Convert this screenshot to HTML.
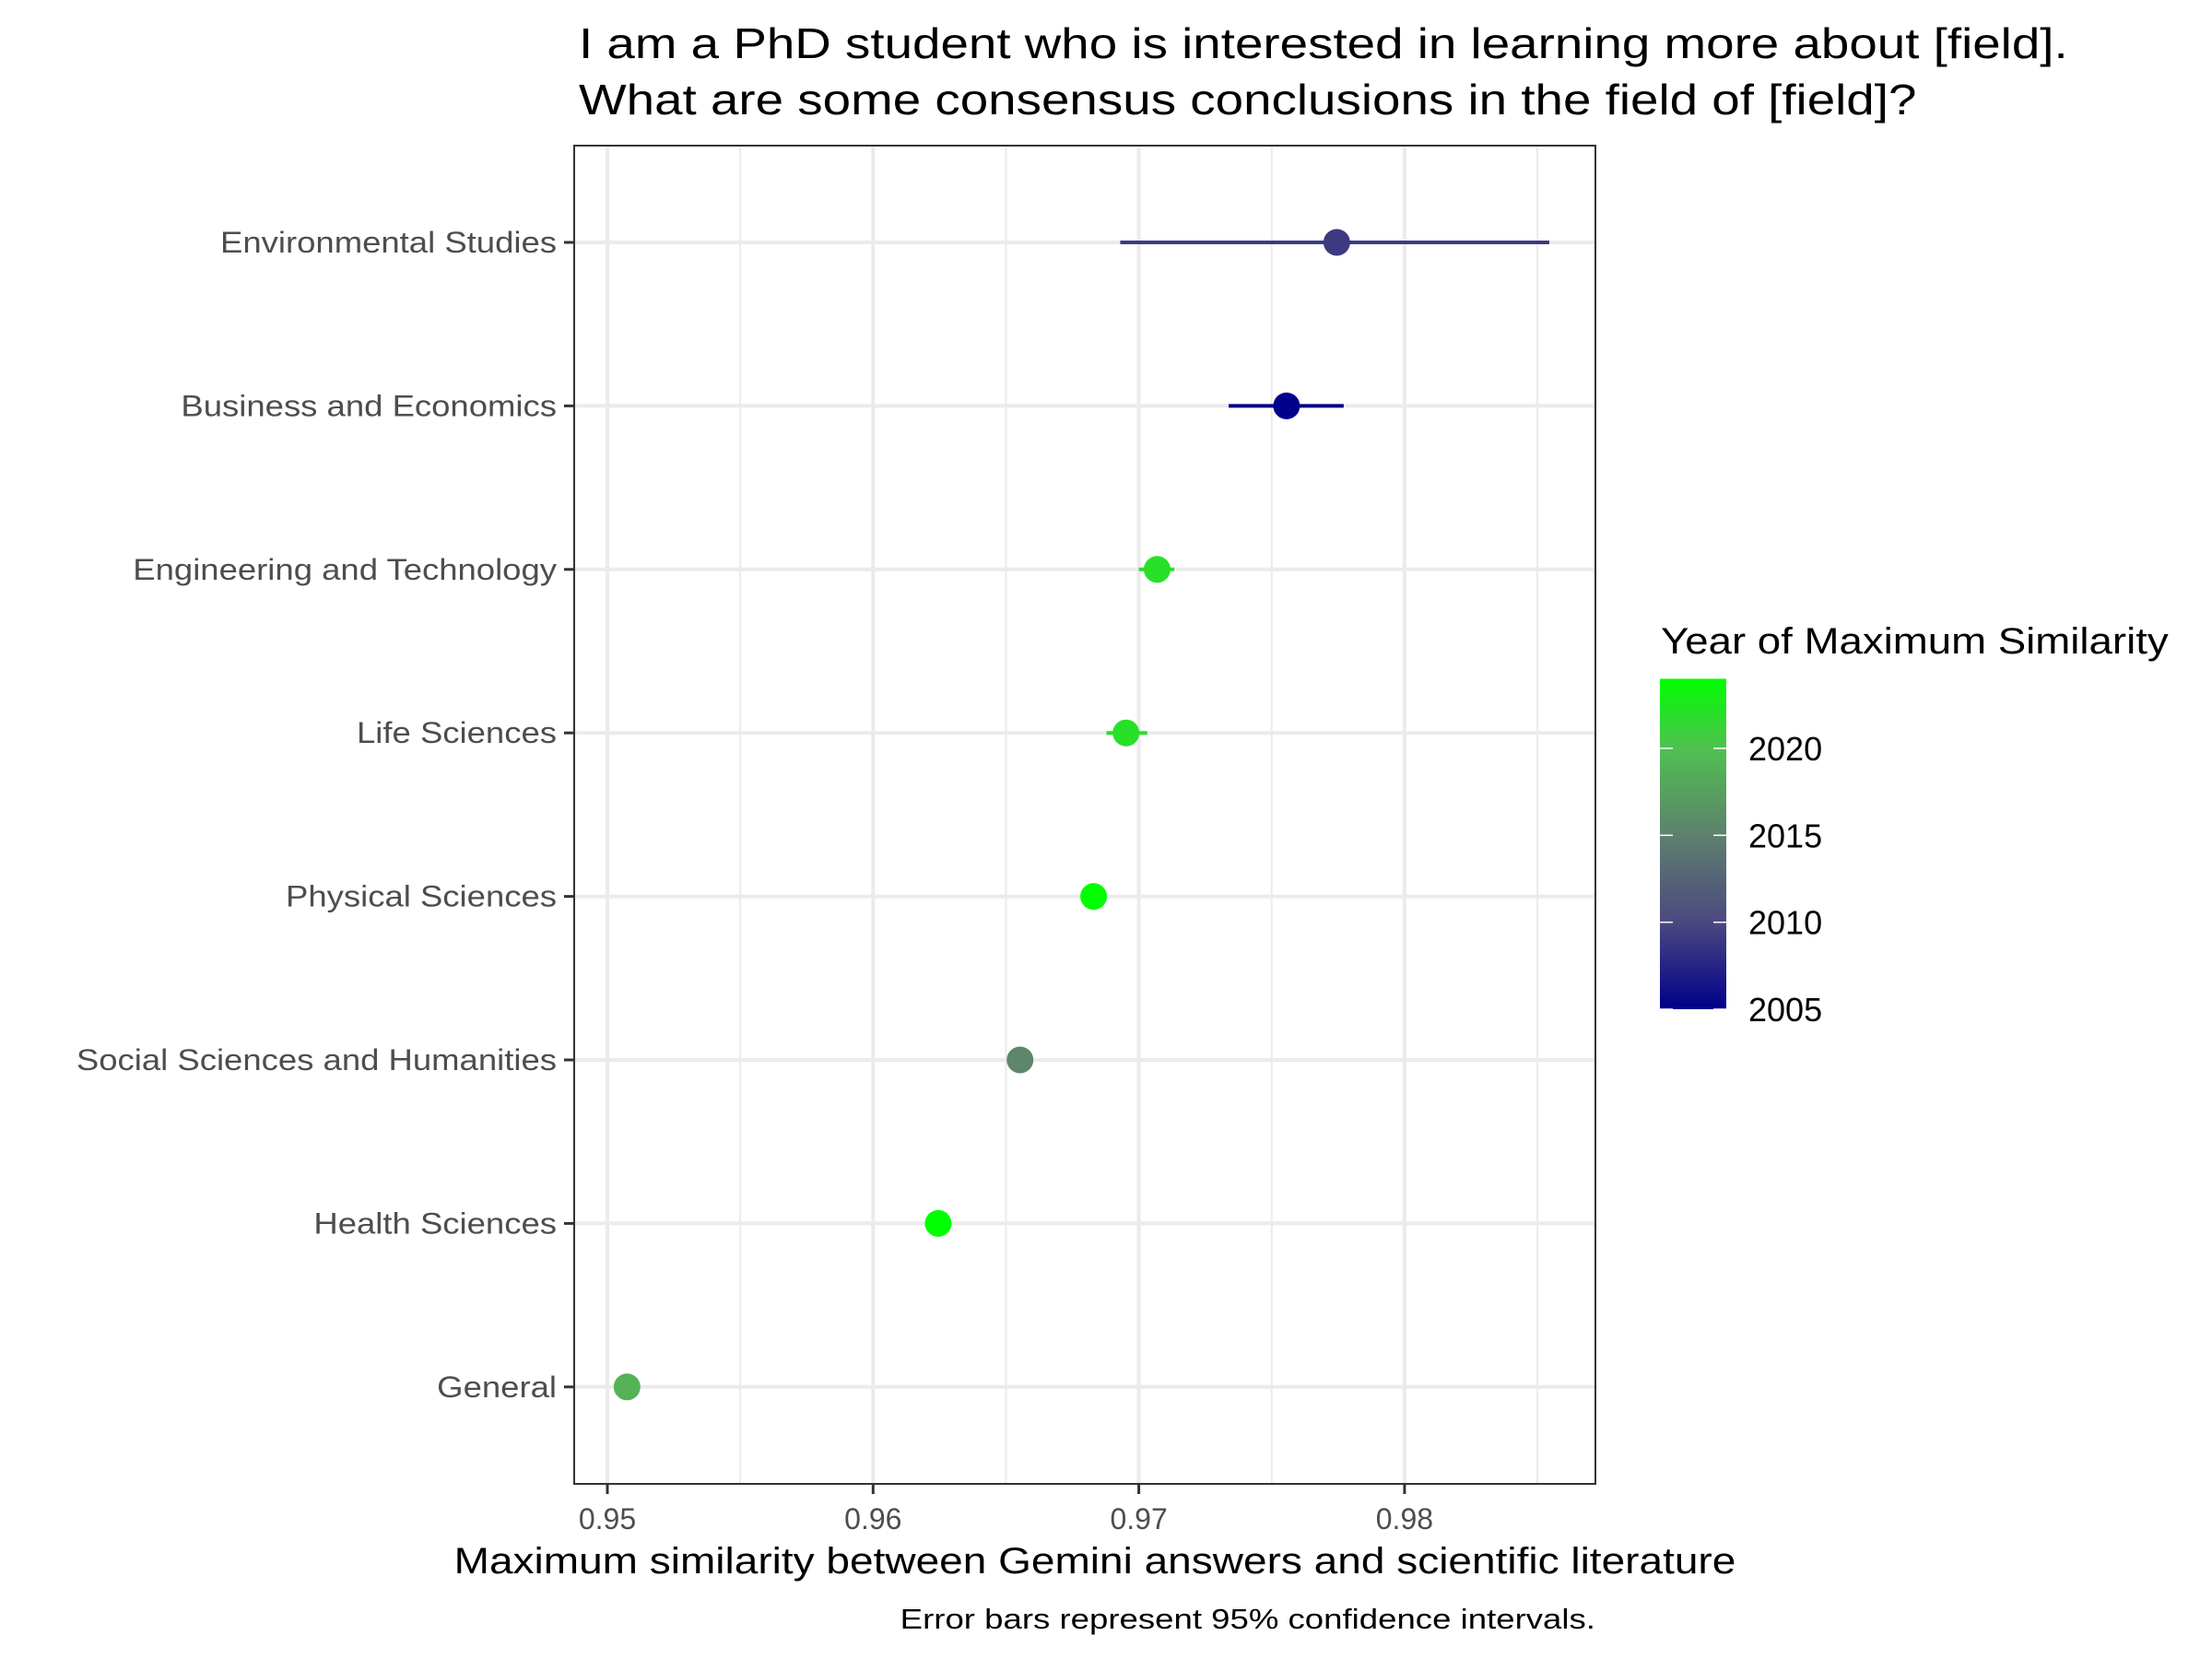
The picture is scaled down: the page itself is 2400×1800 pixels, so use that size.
<!DOCTYPE html>
<html><head><meta charset="utf-8"><style>html,body{margin:0;padding:0;background:#fff}svg{display:block}text{font-family:"Liberation Sans",Arial,sans-serif}</style></head>
<body>
<svg id="chart" width="2400" height="1800" viewBox="0 0 2400 1800" xmlns="http://www.w3.org/2000/svg">
<rect width="2400" height="1800" fill="#fff"/>
<text data-sx="1.19" x="628" y="63" font-size="46" fill="#000">I am a PhD student who is interested in learning more about [field].</text>
<text data-sx="1.19" x="628" y="124" font-size="46" fill="#000">What are some consensus conclusions in the field of [field]?</text>
<g id="grid"></g>
<g id="marks"></g>
<rect x="623" y="158" width="1108" height="1452" fill="none" stroke="#333" stroke-width="2"/>
<g id="axes"></g>
<text data-sx="1.15" x="1188" y="1707" font-size="40" text-anchor="middle" fill="#000">Maximum similarity between Gemini answers and scientific literature</text>
<text data-sx="1.18" x="1731" y="1767" font-size="31" text-anchor="end" fill="#000">Error bars represent 95% confidence intervals.</text>
<g id="legend">
<text data-sx="1.14" x="1802" y="709" font-size="40" fill="#000">Year of Maximum Similarity</text>
</g>
</svg>
<script>
const categories = ["Environmental Studies","Business and Economics","Engineering and Technology","Life Sciences","Physical Sciences","Social Sciences and Humanities","Health Sciences","General"];
const similarity = [0.97745, 0.97556, 0.97069, 0.96952, 0.9683, 0.96553, 0.96245, 0.95074];
const ciLow = [0.9693, 0.97338, 0.97, 0.96878, 0.9683, 0.96553, 0.96245, 0.95074];
const ciHigh = [0.98545, 0.97771, 0.97133, 0.97032, 0.9683, 0.96553, 0.96245, 0.95074];
const years = [2009, 2005, 2022, 2022, 2024, 2015.5, 2024, 2019];
const xTicks = [0.95, 0.96, 0.97, 0.98];
const xTickLabels = ["0.95", "0.96", "0.97", "0.98"];
const xMinor = [0.955, 0.965, 0.975, 0.985];
const legendTicks = [2005, 2010, 2015, 2020];
const yearMin = 2005, yearMax = 2024;

const NS = "http://www.w3.org/2000/svg";
function xS(v){ return 659 + (v - 0.95) * 28830; }
function yS(i){ return 263 + i * 177.4; }
function yearY(y){ return 1095 - (y - 2005) * 18.87; }
const stops = [[2005,[0,0,139]],[2010,[76,72,128]],[2015,[94,128,110]],[2020,[80,192,80]],[2024,[0,255,0]]];
function color(y){
  for(let k=0;k<stops.length-1;k++){
    const a=stops[k], b=stops[k+1];
    if(y<=b[0]){ const t=Math.max(0,(y-a[0])/(b[0]-a[0]));
      const c=a[1].map((v,j)=>Math.round(v+(b[1][j]-v)*t)); return "rgb("+c.join(",")+")"; }
  }
  return "rgb(0,255,0)";
}
function mk(tag, attrs, parent){ const e=document.createElementNS(NS,tag); for(const k in attrs) e.setAttribute(k,attrs[k]); parent.appendChild(e); return e; }
const grid=document.getElementById("grid"), marks=document.getElementById("marks"), axes=document.getElementById("axes"), legend=document.getElementById("legend");
xMinor.forEach(v=>{ const l=mk("line",{x1:xS(v),x2:xS(v),y1:158,y2:1610,stroke:"#ebebeb","stroke-width":2},grid);
  
   });
xTicks.forEach((v,i)=>{ const l=mk("line",{x1:xS(v),x2:xS(v),y1:158,y2:1610,stroke:"#ebebeb","stroke-width":4},grid);
  
  
  const t=mk("line",{x1:xS(v),x2:xS(v),y1:1610,y2:1621,stroke:"#333","stroke-width":3},axes);
  
  
  const tx=mk("text",{x:xS(v),y:1659,"font-size":32,"text-anchor":"middle",fill:"#4d4d4d"},axes);
  tx.textContent=xTickLabels[i];
  
   });
categories.forEach((c,i)=>{ const y=yS(i);
  const g=mk("line",{x1:623,x2:1731,y1:y,y2:y,stroke:"#ebebeb","stroke-width":4},grid);
  
  
  const t=mk("line",{x1:612,x2:623,y1:y,y2:y,stroke:"#333","stroke-width":3},axes);
  
  
  const tx=mk("text",{x:604,y:y+11,"font-size":32,"text-anchor":"end",fill:"#4d4d4d","data-sx":"1.14"},axes);
  tx.textContent=c;
  
  
  const col=color(years[i]);
  const eb=mk("line",{x1:xS(ciLow[i]),x2:xS(ciHigh[i]),y1:y,y2:y,stroke:col,"stroke-width":4},marks);
  
  
  const p=mk("circle",{cx:xS(similarity[i]),cy:y,r:14.5,fill:col},marks);
  
   });
const defs=mk("defs",{},legend);
const grad=mk("linearGradient",{id:"cbar",x1:0,y1:1,x2:0,y2:0},defs);
stops.forEach(s=>{ mk("stop",{offset:((s[0]-yearMin)/(yearMax-yearMin)),"stop-color":"rgb("+s[1].join(",")+")"},grad); });
const bar=mk("rect",{x:1801,y:yearY(yearMax),width:72,height:yearY(yearMin)-yearY(yearMax),fill:"url(#cbar)"},legend);


legendTicks.forEach(v=>{ const y=yearY(v);
  const a=mk("line",{x1:1801,x2:1815,y1:y,y2:y,stroke:"#fff","stroke-width":1.5},legend);
  
  
  const b=mk("line",{x1:1859,x2:1873,y1:y,y2:y,stroke:"#fff","stroke-width":1.5},legend);
  
  
  const tx=mk("text",{x:1897,y:y+13,"font-size":36,fill:"#000"},legend);
  tx.textContent=String(v);
  
   });
document.querySelectorAll("text[data-sx]").forEach(t=>{
  const w=t.getComputedTextLength()*parseFloat(t.getAttribute("data-sx"));
  t.setAttribute("textLength", w.toFixed(1));
  t.setAttribute("lengthAdjust","spacingAndGlyphs");
});
</script>
</body></html>
